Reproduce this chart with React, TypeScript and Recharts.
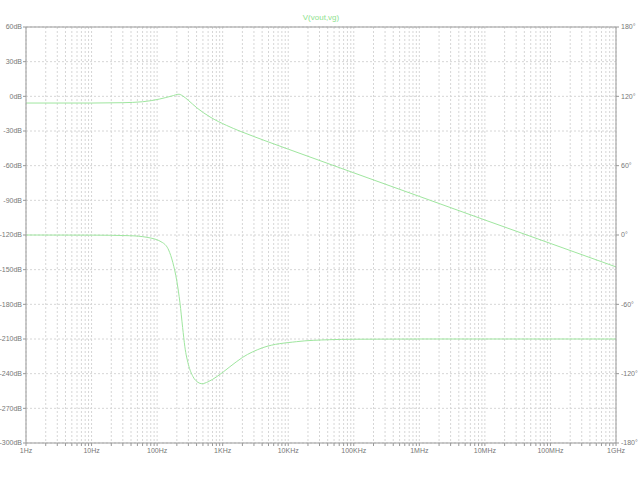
import React from "react"
import { LineChart, Line, XAxis, YAxis, CartesianGrid, ReferenceLine } from "recharts"

// magnitude trace (Hz, dB)
const magFreq = [1, 10, 30, 60, 110, 168, 215, 247, 300, 405, 640, 1150, 1830, 3000, 5000, 10000, 100000, 1e6, 1e7, 1e8, 1e9]
const magDb = [-5.8, -5.8, -5.5, -4.7, -2.3, 0.3, 1.8, 0.3, -3.5, -10, -17.8, -25.2, -30.1, -34.8, -39.5, -45.7, -66.2, -86.6, -107, -127.3, -147.6]

// phase trace (Hz, degrees)
const phaseFreq = [1, 10, 38, 70, 122, 150, 174, 200, 223, 245, 265, 300, 353, 420, 481, 600, 814, 1290, 2000, 4100, 13400, 43000, 100000, 1e6, 1e9]
const phaseDeg = [0, -0.1, -0.6, -2, -6.7, -13, -24, -40, -58.6, -80, -96.7, -112, -122.6, -127.5, -128.7, -127, -122.6, -114, -106, -97.5, -92.3, -90.6, -90.2, -90, -90]

const decadeTicks = [1, 10, 100, 1000, 1e4, 1e5, 1e6, 1e7, 1e8, 1e9]
const decadeLabels = ["1Hz", "10Hz", "100Hz", "1KHz", "10KHz", "100KHz", "1MHz", "10MHz", "100MHz", "1GHz"]

const dbTicks = [60, 30, 0, -30, -60, -90, -120, -150, -180, -210, -240, -270, -300]
const degTicks = [180, 120, 60, 0, -60, -120, -180]

const magData = magFreq.map((f, i) => ({ f, v: magDb[i] }))
const phaseData = phaseFreq.map((f, i) => ({ f, v: phaseDeg[i] }))

// 1..9 per decade so the grid gets the minor lines too
const xTicks: number[] = []
decadeTicks.forEach((d, i) => {
  if (i === decadeTicks.length - 1) {
    xTicks.push(d)
    return
  }
  for (let m = 1; m < 10; m++) xTicks.push(d * m)
})

const fmtFreq = (v: number) => {
  const i = decadeTicks.findIndex((d) => Math.abs(d - v) / d < 1e-6)
  return i >= 0 ? decadeLabels[i] : ""
}

const TRACE = "#9fe69f"
const AXIS = "#999"
const tickStyle = { fontSize: 7, fill: "#777", fontFamily: "Liberation Sans, Arial, sans-serif" }

export default function App() {
  return (
    <div style={{ position: "absolute", left: 0, top: 0, width: 640, height: 480, background: "#fff" }}>
      <div
        style={{
          position: "absolute",
          left: 0,
          width: 642,
          top: 13,
          textAlign: "center",
          fontSize: 8,
          color: "#8ee28e",
          fontFamily: "Liberation Sans, Arial, sans-serif",
        }}>
        V(vout,vg)
      </div>
      <LineChart width={640} height={480} margin={{ top: 27, right: 0, bottom: 0, left: 0 }}>
        <CartesianGrid yAxisId="mag" stroke="#d6d6d6" strokeDasharray="2 2" />
        <XAxis
          dataKey="f"
          type="number"
          scale="log"
          domain={[1, 1e9]}
          ticks={xTicks}
          interval={0}
          tickFormatter={fmtFreq}
          allowDataOverflow
          height={37}
          stroke={AXIS}
          tickSize={3}
          tickMargin={2}
          tick={tickStyle}
        />
        <YAxis
          yAxisId="mag"
          type="number"
          domain={[-300, 60]}
          ticks={dbTicks}
          interval={0}
          tickFormatter={(v: number) => `${v}dB`}
          width={26}
          stroke={AXIS}
          tickSize={3}
          tickMargin={1}
          tick={tickStyle}
        />
        <YAxis
          yAxisId="ph"
          orientation="right"
          type="number"
          domain={[-180, 180]}
          ticks={degTicks}
          interval={0}
          tickFormatter={(v: number) => `${v}°`}
          width={24}
          stroke={AXIS}
          tickSize={3}
          tickMargin={2}
          tick={tickStyle}
        />
        <ReferenceLine yAxisId="mag" y={60} stroke={AXIS} />
        <Line
          yAxisId="mag"
          data={magData}
          dataKey="v"
          type="monotone"
          stroke={TRACE}
          strokeWidth={1}
          dot={false}
          isAnimationActive={false}
        />
        <Line
          yAxisId="ph"
          data={phaseData}
          dataKey="v"
          type="monotone"
          stroke={TRACE}
          strokeWidth={1}
          dot={false}
          isAnimationActive={false}
        />
      </LineChart>
    </div>
  )
}
